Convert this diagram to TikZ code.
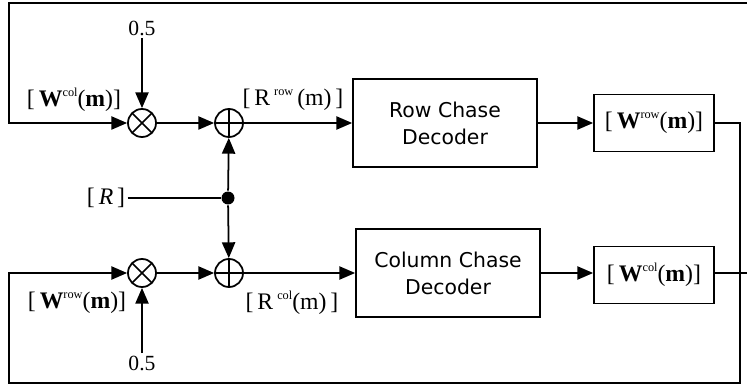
\documentclass[tikz,border=0pt]{standalone}
\usepackage{fontspec}
\setmainfont{Liberation Serif}
\newfontfamily\decfont{DejaVu Sans}
\usepackage{tikz}
\usetikzlibrary{arrows.meta, positioning, calc}

% small raised index as in the labels
\newcommand{\supr}[1]{\raisebox{0.9ex}{\fontsize{7}{7}\selectfont #1}}

\begin{document}
\begin{tikzpicture}[
    x=0.02cm, y=-0.02cm,
    line width=1pt,
    every node/.style={font=\fontsize{13.5}{15}\selectfont},
    arr/.style={-{Triangle[length=9pt, width=7.5pt]}},
    dec/.style={draw, minimum width=3.68cm, minimum height=1.77cm,
                align=center, inner sep=2pt,
                font=\decfont\fontsize{11.6}{15.4}\selectfont},
    wbox/.style={draw, minimum width=2.4cm, minimum height=1.14cm, inner sep=1pt},
    mult/.style={circle, draw, minimum size=0.56cm, inner sep=0pt,
                 path picture={\draw (path picture bounding box.north west)
                   -- (path picture bounding box.south east)
                   (path picture bounding box.south west)
                   -- (path picture bounding box.north east);}},
    adder/.style={circle, draw, minimum size=0.56cm, inner sep=0pt,
                  path picture={\draw (path picture bounding box.north)
                    -- (path picture bounding box.south)
                    (path picture bounding box.west)
                    -- (path picture bounding box.east);}},
    dot/.style={circle, fill, minimum size=0.26cm, inner sep=0pt},
    lbl/.style={inner sep=1pt},
    half/.style={inner sep=1pt, font=\fontsize{12.3}{14}\selectfont},
  ]
    \useasboundingbox (0,0) rectangle (747,388);

    % corners of the feedback loops
    \coordinate (tr)  at (747,3);
    \coordinate (ctl) at (9,3);
    \coordinate (cbr) at (740,383);
    \coordinate (cbl) at (9,383);

    % upper branch
    \node[mult]  (m1) at (142,123) {};
    \node[adder] (a1) at (229,123) {};
    \node[half]  (h1) at (142,28) {0.5};
    \node[lbl]   (lwc) at (74,100) {[\,\textbf{W}\supr{col}(\textbf{m})]};
    \node[lbl]   (lrr) at (293,100) {[\,R\,\supr{row}\,(m)\,]};
    \node[dec]   (rowdec) at (445,123) {Row Chase\\Decoder};
    \node[wbox]  (wrow) at (654,123) {[\,\textbf{W}\supr{row}(\textbf{m})]};

    % channel input
    \node[dot] (j)  at (228,198) {};
    \node[lbl] (lr) at (106,198) {[\,\textit{R}\,]};

    % lower branch
    \node[mult]  (m2) at (142,273) {};
    \node[adder] (a2) at (229,273) {};
    \node[half]  (h2) at (142,363) {0.5};
    \node[lbl]   (lwr) at (77,303) {[\,\textbf{W}\supr{row}(\textbf{m})]};
    \node[lbl]   (lrc) at (292,303) {[\,R\,\supr{col}(m)\,]};
    \node[dec]   (coldec) at (448,273) {Column Chase\\Decoder};
    \node[wbox]  (wcol) at (654,275) {[\,\textbf{W}\supr{col}(\textbf{m})]};

    % connectors
    \draw[arr] (tr) -- (ctl) |- (m1);
    \draw[arr] (h1) -- (m1);
    \draw[arr] (m1) -- (a1);
    \draw[arr] (a1) -- (rowdec);
    \draw[arr] (rowdec) -- (wrow);
    \draw (lr) -- (j);
    \draw[arr] (j) -- (a1);
    \draw[arr] (j) -- (a2);
    \draw[arr] (wrow) -| (cbr) -- (cbl) |- (m2);
    \draw[arr] (h2) -- (m2);
    \draw[arr] (m2) -- (a2);
    \draw[arr] (a2) -- (coldec);
    \draw[arr] (coldec) -- (wcol.west |- coldec);
    \draw (wcol.east |- coldec) -- (tr |- coldec);
  \end{tikzpicture}
\end{document}
